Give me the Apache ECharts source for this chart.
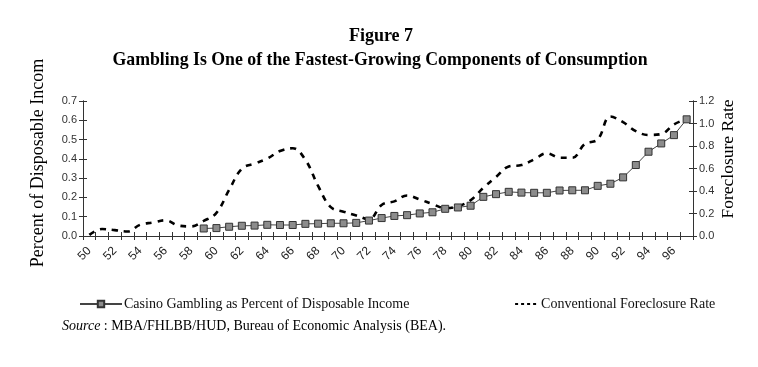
<!DOCTYPE html>
<html>
<head>
<meta charset="utf-8">
<script src="https://cdn.jsdelivr.net/npm/echarts@6/dist/echarts.min.js"></script>
<style>
html,body{margin:0;padding:0;background:#fff;}
#c{width:758px;height:367px;}
</style>
</head>
<body>
<div id="c"></div>
<script>
// ---- data ----
const years = ['50','51','52','53','54','55','56','57','58','59','60','61','62','63','64','65','66','67','68','69','70','71','72','73','74','75','76','77','78','79','80','81','82','83','84','85','86','87','88','89','90','91','92','93','94','95','96','97'];
// Casino gambling as percent of disposable income (left axis), 1959-1997
const gambling = [null,null,null,null,null,null,null,null,null,
  0.039,0.041,0.048,0.053,0.054,0.058,0.057,0.057,0.063,0.064,0.066,
  0.066,0.068,0.080,0.093,0.104,0.108,0.117,0.123,0.141,0.148,
  0.157,0.203,0.217,0.229,0.225,0.224,0.224,0.236,0.237,0.237,
  0.260,0.271,0.304,0.368,0.437,0.480,0.523,0.605];
// Conventional foreclosure rate (right axis), 1950-1997
const foreclosure = [0.01,0.062,0.052,0.04,0.10,0.12,0.14,0.093,0.085,0.134,
  0.206,0.41,0.598,0.644,0.688,0.755,0.78,0.677,0.445,0.256,
  0.216,0.183,0.148,0.276,0.308,0.36,0.325,0.284,0.248,0.265,
  0.318,0.428,0.525,0.618,0.631,0.681,0.736,0.696,0.695,0.819,
  0.858,1.062,1.012,0.932,0.898,0.906,0.992,1.04];
const leftTicks = {min:0, max:0.7, interval:0.1};
const rightTicks = {min:0, max:1.2, interval:0.2};
const seriesNames = ['Casino Gambling as Percent of Disposable Income','Conventional Foreclosure Rate'];

const serif = '"Liberation Serif","Times New Roman",serif';
const sans = '"Liberation Sans",Arial,sans-serif';
const axisCol = '#333';

const chart = echarts.init(document.getElementById('c'), null, {renderer:'canvas'});
const grid = {left:83, right:65, top:101, bottom:131, containLabel:false};

function yAx(pos, t, show, inside){
  return {type:'value', position:pos, min:t.min, max:t.max, interval:t.interval,
    axisLine:{show:true, lineStyle:{color:axisCol, width:1}},
    axisTick:{show:true, inside:inside, length:4, lineStyle:{color:axisCol}},
    axisLabel:{show:show, margin:6, fontFamily:sans, fontSize:11, color:'#333',
      formatter:v=>v.toFixed(1)},
    splitLine:{show:false}};
}
function xAx(show, inside){
  return {type:'category', data:years, boundaryGap:true, position:'bottom',
    axisLine:{show:true, lineStyle:{color:axisCol, width:1}},
    axisTick:{show:true, inside:inside, length:4, interval:0, lineStyle:{color:axisCol}},
    axisLabel:{show:show, rotate:45, margin:13, interval:(i)=>i%2===0,
      fontFamily:sans, fontSize:12, color:'#222'},
    splitLine:{show:false}};
}

chart.setOption({
  animation:false,
  backgroundColor:'#fff',
  grid:grid,
  title:[
    {text:'Figure 7', left:376, textAlign:'center', top:22, textStyle:{fontFamily:serif, fontWeight:'bold', fontSize:18, color:'#000'}},
    {text:'Gambling Is One of the Fastest-Growing Components of Consumption', left:375, textAlign:'center', top:46,
      textStyle:{fontFamily:serif, fontWeight:'bold', fontSize:17.8, color:'#000'}}
  ],
  legend:[
    {data:[seriesNames[0]], left:74, top:292, itemWidth:42, itemHeight:8, itemGap:4,
      textStyle:{fontFamily:serif, fontSize:14, color:'#111', padding:[0,0,0,-3]}},
    {data:[{name:seriesNames[1], itemStyle:{opacity:0}, lineStyle:{type:[3,3], width:2.2, color:'#000'}}],
      left:509, top:292, itemWidth:22, itemHeight:8,
      textStyle:{fontFamily:serif, fontSize:14, color:'#111', padding:[0,0,0,-1]}}
  ],
  xAxis:[xAx(true,false), xAx(false,true)],
  yAxis:[yAx('left',leftTicks,true,false), yAx('right',rightTicks,true,false),
         yAx('left',leftTicks,false,true), yAx('right',rightTicks,false,true)],
  series:[
    {name:seriesNames[0], type:'line', xAxisIndex:0, yAxisIndex:0, data:gambling,
      symbol:'rect', symbolSize:7, showSymbol:true, connectNulls:false,
      lineStyle:{color:'#444', width:1},
      itemStyle:{color:'#8c8c8c', borderColor:'#333', borderWidth:1}},
    {name:seriesNames[1], type:'line', xAxisIndex:0, yAxisIndex:1, data:foreclosure,
      symbol:'none', smooth:0.4,
      lineStyle:{color:'#000', width:2.6, type:[6,6]},
      itemStyle:{color:'#000'}}
  ],
  graphic:[
    {type:'text', x:38, y:163, rotation:Math.PI/2,
      style:{text:'Percent of Disposable Incom', fontFamily:serif, fontSize:18, fill:'#000',
        textAlign:'center', textVerticalAlign:'middle'}},
    {type:'text', x:728, y:159, rotation:Math.PI/2,
      style:{text:'Foreclosure Rate', fontFamily:serif, fontSize:17.5, fill:'#000',
        textAlign:'center', textVerticalAlign:'middle'}},
    {type:'text', left:62, top:319,
      style:{rich:{i:{fontStyle:'italic', fontFamily:serif, fontSize:14, fill:'#000'}, n:{fontFamily:serif, fontSize:14, fill:'#000'}},
        text:'{i|Source}{n| : MBA/FHLBB/HUD, Bureau of Economic Analysis (BEA).}', fill:'#000', fontFamily:serif, fontSize:14}}
  ]
});
</script>
</body>
</html>
